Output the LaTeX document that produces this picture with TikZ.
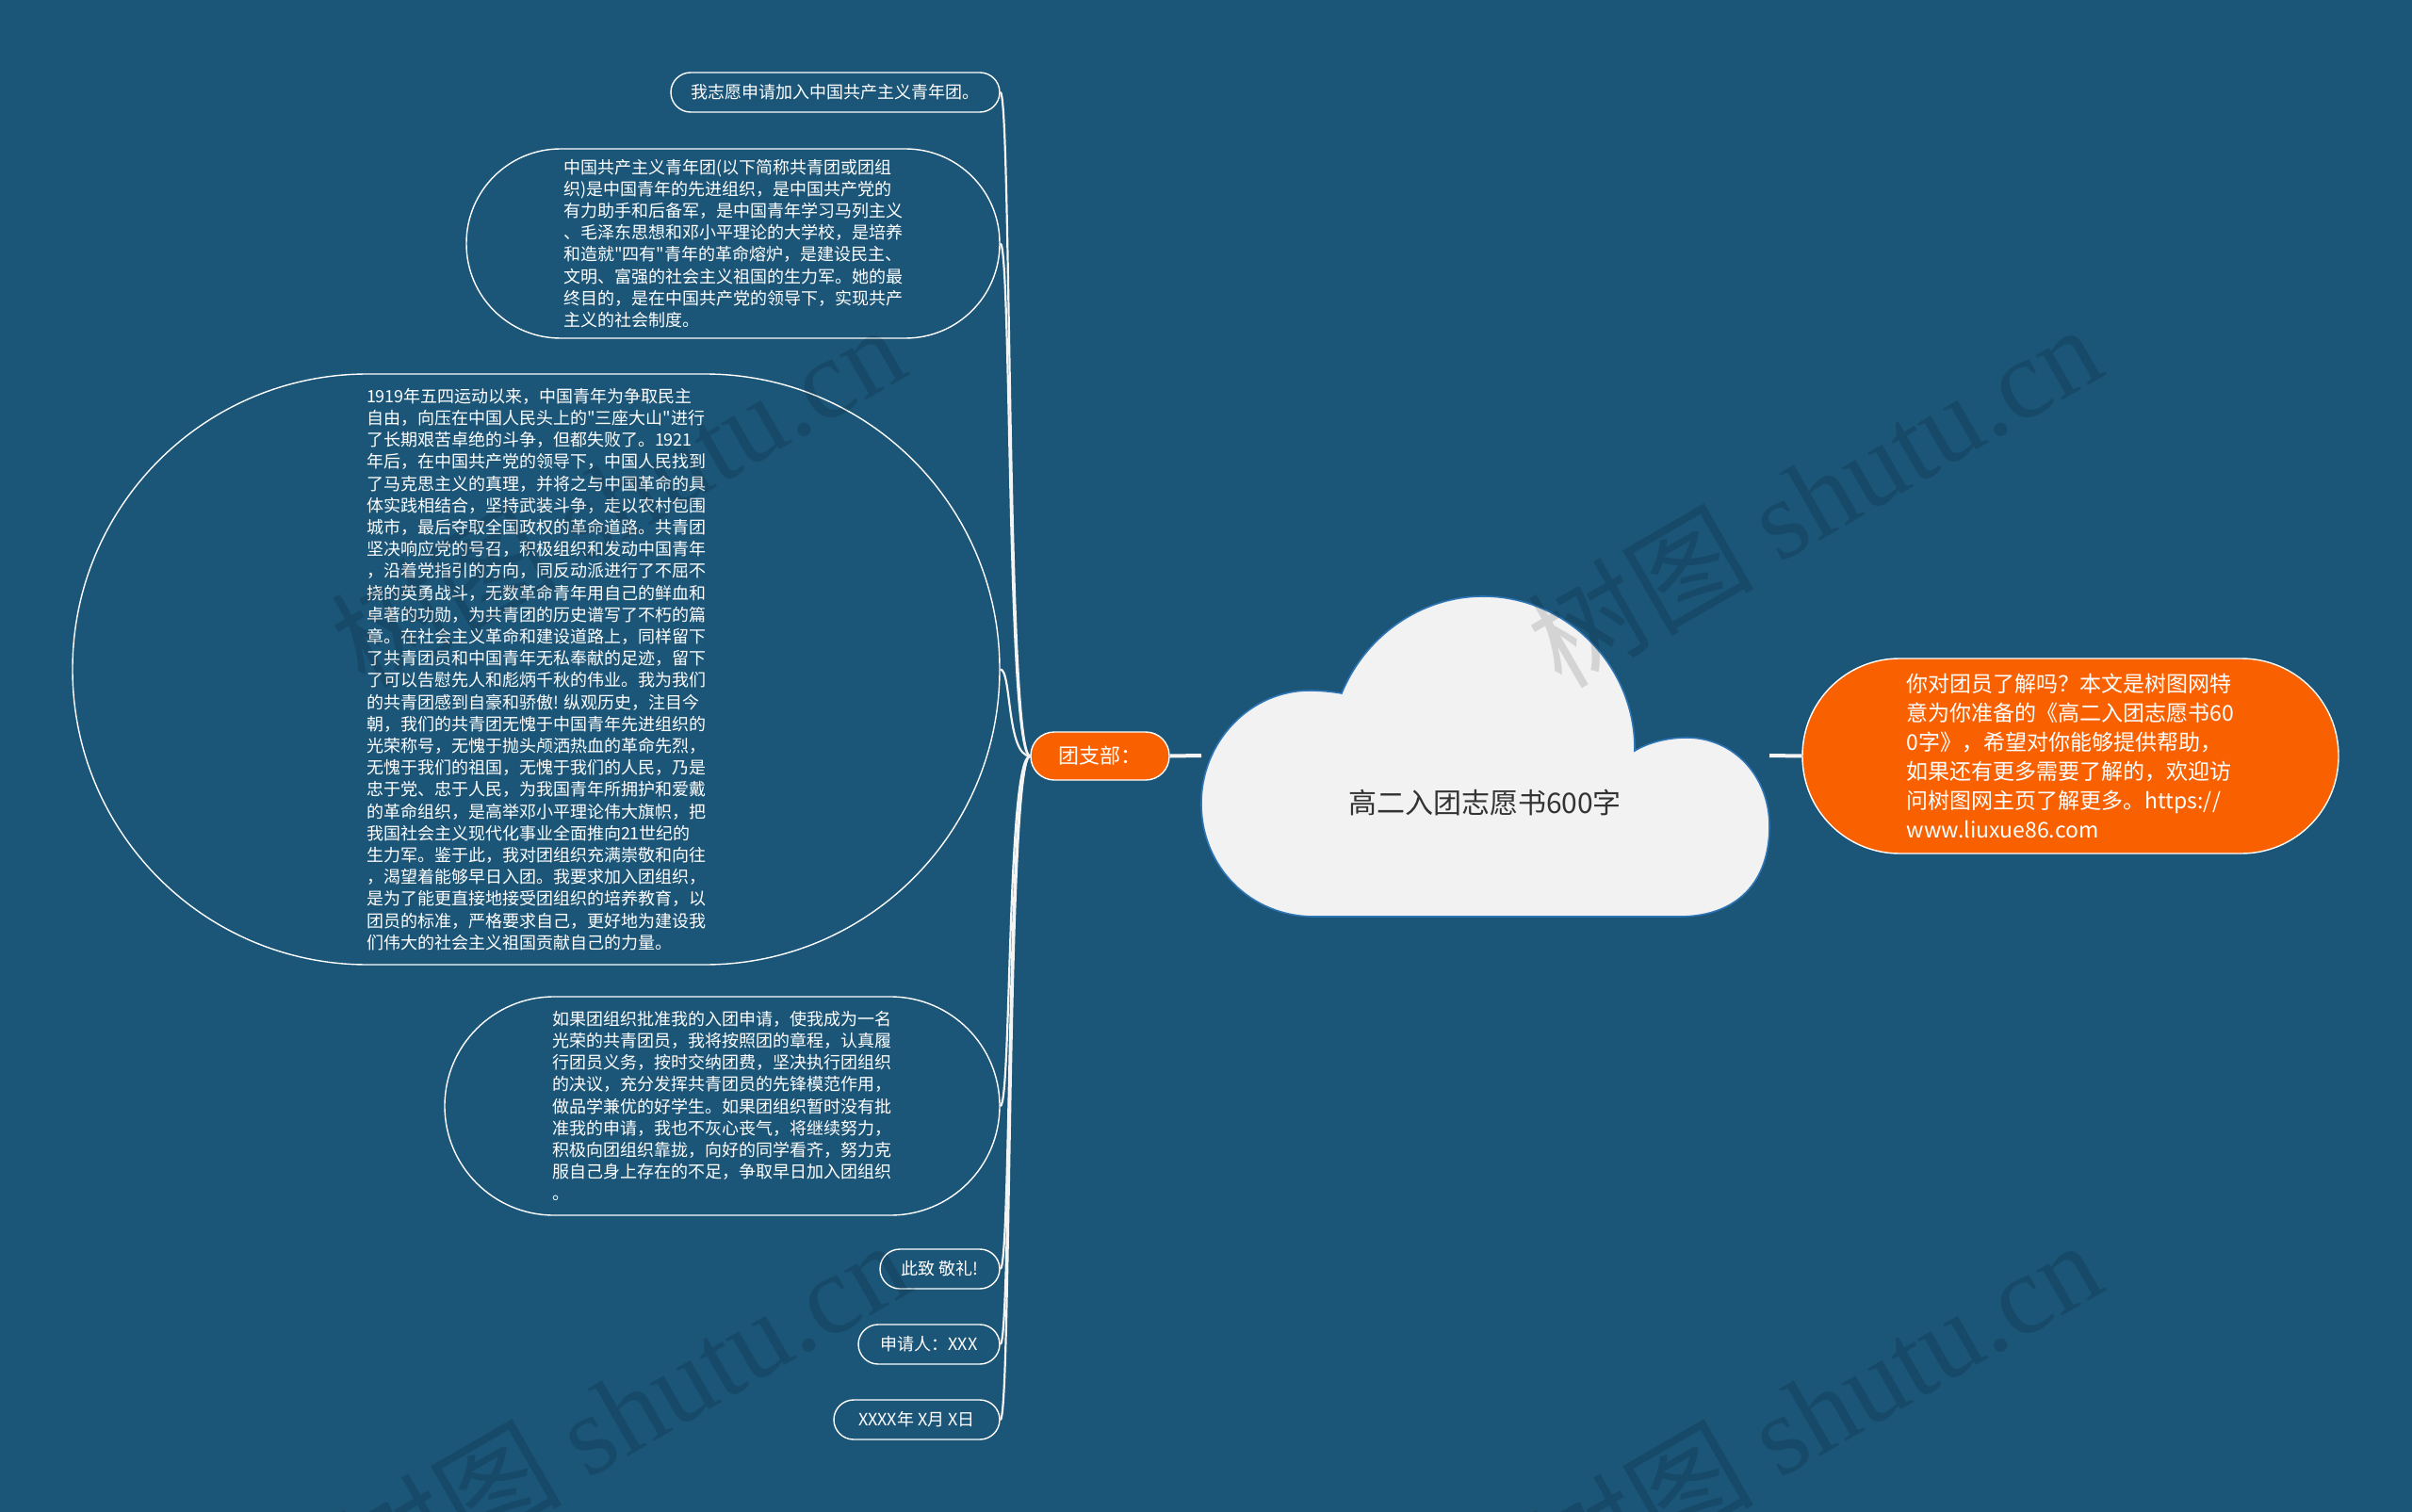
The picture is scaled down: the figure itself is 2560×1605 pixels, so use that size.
\documentclass[tikz,border=0pt]{standalone}
\usepackage{fontspec}
\newfontfamily\cjk{Noto Sans CJK SC}
\newfontfamily\wmserif{Liberation Serif}
\definecolor{bgblue}{RGB}{27,85,120}
\definecolor{orng}{RGB}{249,97,0}
\definecolor{cloudfill}{RGB}{242,242,242}
\definecolor{cloudline}{RGB}{46,117,182}
\definecolor{linewhite}{RGB}{244,244,244}
\begin{document}
\begin{tikzpicture}[x=1pt,y=-1pt,
  leaf/.style={draw=white, line width=1.4pt, text=white, align=left, inner sep=0pt,
    font=\cjk\fontsize{18}{23.2}\selectfont},
  stadium/.style={rounded corners=#1},
  orangebox/.style={draw=white, line width=1.4pt, fill=orng, text=white, align=left, inner sep=0pt},
  conn/.style={draw=linewhite, line width=2.2pt},
  bar/.style={draw=linewhite, line width=4pt},
  wm/.style={text=black, text opacity=0.12, inner sep=0pt}
]
\useasboundingbox (0,0) rectangle (2560,1605);
\fill[bgblue] (0,0) rectangle (2560,1605);

% cloud (central topic)
\filldraw[fill=cloudfill, draw=cloudline, line width=1.6pt]
 (1395,973) -- (1782,973)
 .. controls (1845,973) and (1878,935) .. (1878,877)
 .. controls (1878,824) and (1840,783) .. (1790,783)
 .. controls (1768,783) and (1748,789) .. (1735,797)
 .. controls (1736,707) and (1663,633) .. (1574,633)
 .. controls (1508,633) and (1449,675) .. (1424,736)
 .. controls (1412,734) and (1400,733) .. (1390,733)
 .. controls (1327,733) and (1275,787) .. (1275,853)
 .. controls (1275,920) and (1327,973) .. (1395,973) -- cycle;
\node[inner sep=0pt, text=black!80, font=\cjk\fontsize{30}{36}\selectfont] (cloud) at (1576,852) {高二入团志愿书600字};
\coordinate (cl) at (1275,802);
\coordinate (cr) at (1878,802);

% right orange node
\node[orangebox, stadium=103pt, minimum width=569pt, minimum height=207pt,
  font=\cjk\fontsize{23}{31}\selectfont] (rn) at (2197.5,802.5)
 {你对团员了解吗？本文是树图网特\\
  意为你准备的《高二入团志愿书60\\
  0字》，希望对你能够提供帮助，\\
  如果还有更多需要了解的，欢迎访\\
  问树图网主页了解更多。https://\\
  www.liuxue86.com};

% main branch
\node[orangebox, stadium=25pt, minimum width=147pt, minimum height=51pt,
  font=\cjk\fontsize{22}{26}\selectfont] (tz) at (1167.5,802.5) {团支部：};

% leaves
\node[leaf, stadium=21pt, minimum width=349pt, minimum height=42pt] (n1) at (886.5,98)
 {我志愿申请加入中国共产主义青年团。};

\node[leaf, stadium=100pt, minimum width=566pt, minimum height=201pt] (n2) at (778,258.5)
 {中国共产主义青年团(以下简称共青团或团组\\
  织)是中国青年的先进组织，是中国共产党的\\
  有力助手和后备军，是中国青年学习马列主义\\
  、毛泽东思想和邓小平理论的大学校，是培养\\
  和造就"四有"青年的革命熔炉，是建设民主、\\
  文明、富强的社会主义祖国的生力军。她的最\\
  终目的，是在中国共产党的领导下，实现共产\\
  主义的社会制度。};

\node[leaf, stadium=313pt, minimum width=984pt, minimum height=627pt] (n3) at (569,710.5)
 {1919年五四运动以来，中国青年为争取民主\\
  自由，向压在中国人民头上的"三座大山"进行\\
  了长期艰苦卓绝的斗争，但都失败了。1921\\
  年后，在中国共产党的领导下，中国人民找到\\
  了马克思主义的真理，并将之与中国革命的具\\
  体实践相结合，坚持武装斗争，走以农村包围\\
  城市，最后夺取全国政权的革命道路。共青团\\
  坚决响应党的号召，积极组织和发动中国青年\\
  ，沿着党指引的方向，同反动派进行了不屈不\\
  挠的英勇战斗，无数革命青年用自己的鲜血和\\
  卓著的功勋，为共青团的历史谱写了不朽的篇\\
  章。在社会主义革命和建设道路上，同样留下\\
  了共青团员和中国青年无私奉献的足迹，留下\\
  了可以告慰先人和彪炳千秋的伟业。我为我们\\
  的共青团感到自豪和骄傲! 纵观历史，注目今\\
  朝，我们的共青团无愧于中国青年先进组织的\\
  光荣称号，无愧于抛头颅洒热血的革命先烈，\\
  无愧于我们的祖国，无愧于我们的人民，乃是\\
  忠于党、忠于人民，为我国青年所拥护和爱戴\\
  的革命组织，是高举邓小平理论伟大旗帜，把\\
  我国社会主义现代化事业全面推向21世纪的\\
  生力军。鉴于此，我对团组织充满崇敬和向往\\
  ，渴望着能够早日入团。我要求加入团组织，\\
  是为了能更直接地接受团组织的培养教育，以\\
  团员的标准，严格要求自己，更好地为建设我\\
  们伟大的社会主义祖国贡献自己的力量。};

\node[leaf, stadium=116pt, minimum width=589pt, minimum height=232pt] (n4) at (766.5,1174)
 {如果团组织批准我的入团申请，使我成为一名\\
  光荣的共青团员，我将按照团的章程，认真履\\
  行团员义务，按时交纳团费，坚决执行团组织\\
  的决议，充分发挥共青团员的先锋模范作用，\\
  做品学兼优的好学生。如果团组织暂时没有批\\
  准我的申请，我也不灰心丧气，将继续努力，\\
  积极向团组织靠拢，向好的同学看齐，努力克\\
  服自己身上存在的不足，争取早日加入团组织\\
  。};

\node[leaf, stadium=21pt, minimum width=127pt, minimum height=42pt] (n5) at (997.5,1347) {此致 敬礼!};
\node[leaf, stadium=21pt, minimum width=150pt, minimum height=42pt] (n6) at (986,1427) {申请人：XXX};
\node[leaf, stadium=21pt, minimum width=176pt, minimum height=42pt] (n7) at (973,1507) {XXXX年 X月 X日};

% connectors
\draw[bar] (tz.east) -- (cl);
\draw[bar] (cr) -- (rn.west);
\foreach \n in {n1,n2,n3,n4,n5,n6,n7}{
  \draw[conn] (tz.west) .. controls +(-25,0) and +(12,0) .. (\n.east);
}

% watermarks
\node[wm, rotate=30] (wm1) at (1925,525) {\cjk\fontsize{120}{120}\selectfont 树图 \wmserif shutu.cn};
\node[wm, rotate=30] (wm2) at (1925,1497) {\cjk\fontsize{120}{120}\selectfont 树图 \wmserif shutu.cn};
\node[wm, rotate=30] (wm3) at (655,525) {\cjk\fontsize{120}{120}\selectfont 树图 \wmserif shutu.cn};
\node[wm, rotate=30] (wm4) at (660,1497) {\cjk\fontsize{120}{120}\selectfont 树图 \wmserif shutu.cn};
\end{tikzpicture}
\end{document}
